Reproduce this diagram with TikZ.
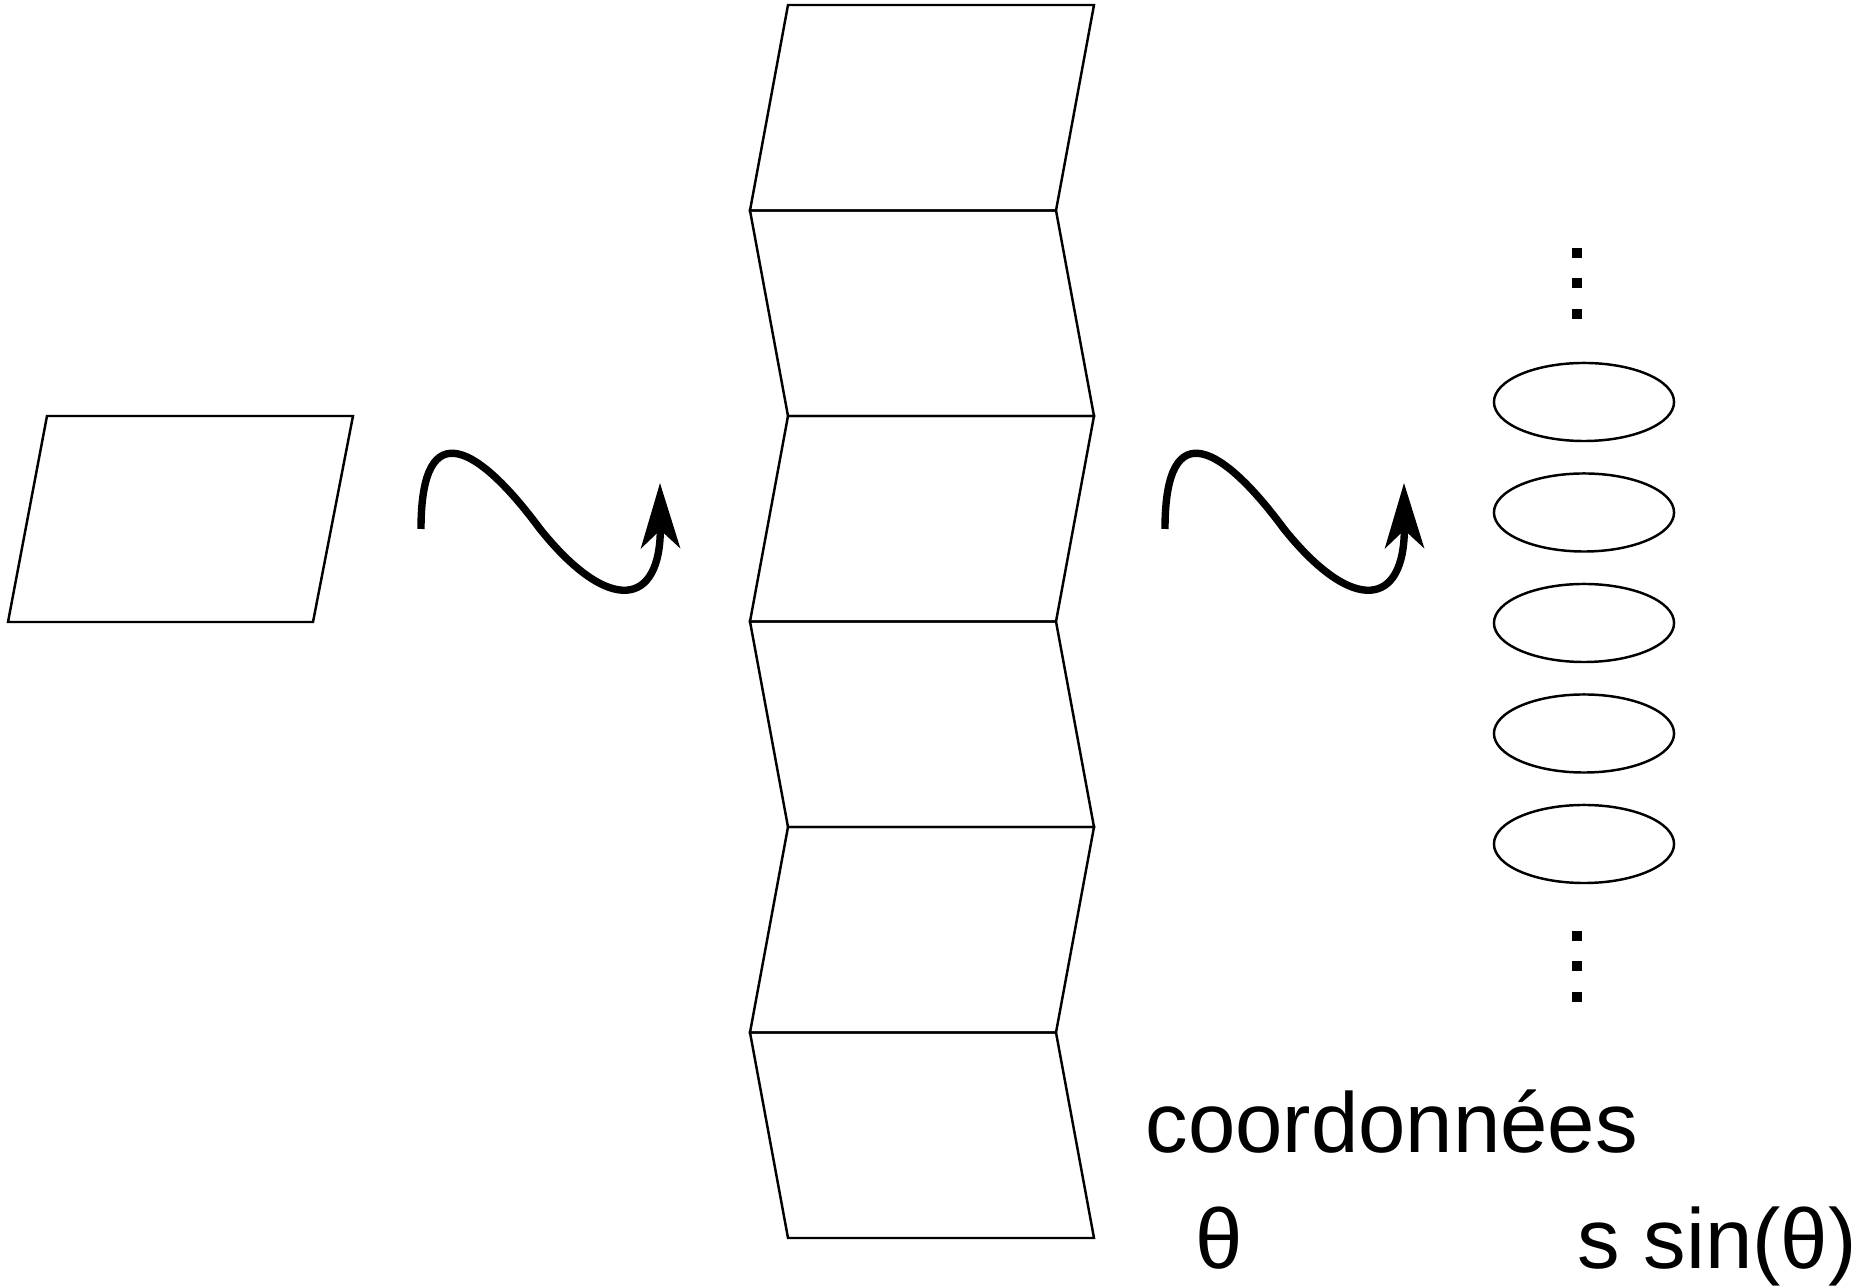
\documentclass[tikz,border=0pt]{standalone}
\usepackage{fontspec}
\setmainfont{Liberation Sans}
\usetikzlibrary{arrows.meta,shapes.geometric,positioning,calc}
\tikzset{
    squiggle/.style={-{Stealth[length=6.5mm, width=3.9mm, inset=1.8mm]}, line width=2.1pt},
    panel/.style={draw, line width=0.7pt, line join=miter},
    slice/.style={draw, ellipse, line width=0.7pt, minimum width=1.8cm, minimum height=0.78cm, inner sep=0pt},
    vdot/.style={fill, minimum size=1mm, inner sep=0pt},
    txt/.style={font=\fontsize{24.2}{29}\selectfont, inner sep=0pt, anchor=base west}
}

\begin{document}
\begin{tikzpicture}[x=0.01cm, y=-0.01cm]
\useasboundingbox (0,0) rectangle (1869,1286);

% one cell
\draw[panel] (47,416) -- (353,416) -- (313,622) -- (8,622) -- cycle;

% folded strip
\foreach \k in {0,...,5} {
  \pgfmathsetmacro{\ya}{5+205.5*\k}
  \pgfmathsetmacro{\yb}{\ya+205.5}
  \pgfmathsetmacro{\xa}{iseven(\k) ? 788 : 750}
  \pgfmathsetmacro{\xb}{iseven(\k) ? 750 : 788}
  \draw[panel] (\xa,\ya) -- (\xa+306,\ya) -- (\xb+306,\yb) -- (\xb,\yb) -- cycle;
}

% slices
\foreach \k in {0,...,4}
  \node[slice] (e\k) at (1584,{402+110.5*\k}) {};
\foreach \y in {253,283,314,936,966,997}
  \node[vdot] at (1577,\y) {};

% squiggly arrows
\coordinate (s1) at (421,529);
\coordinate (s2) at (1165,529);
\foreach \s in {s1,s2}
  \draw[squiggle, shift={(\s)}] (0,0) .. controls (0,-120) and (60,-80) .. (119,0)
    .. controls (188,86) and (240,78) .. (239,-46);

\node[txt] (coord) at (1145,1153) {coordonnées};
\node[txt] (theta) at (1195,1268) {θ};
\node[txt] (ssin) at (1577,1268) {s sin(θ)};
\end{tikzpicture}
\end{document}
